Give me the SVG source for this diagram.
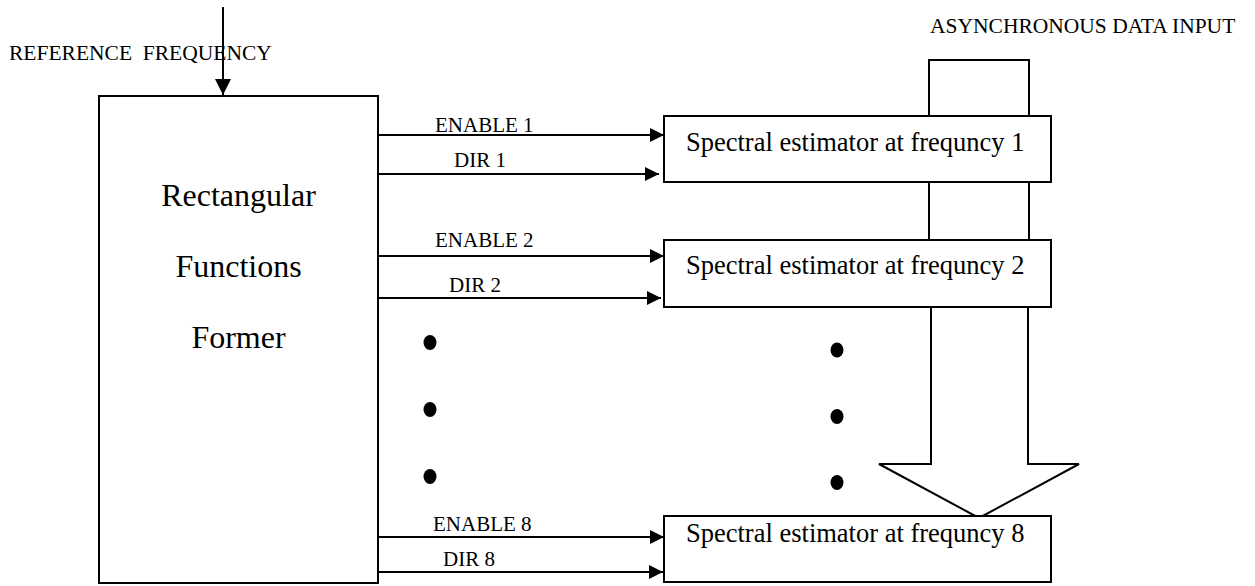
<svg xmlns="http://www.w3.org/2000/svg" width="1255" height="586" viewBox="0 0 1255 586">
<style>
.box{fill:#fff;stroke:#000;stroke-width:2}
.ln{stroke:#000;stroke-width:2;fill:none}
.lbl{font-family:"Liberation Serif","Times New Roman",serif;font-size:21px;fill:#000}
.hdr{font-family:"Liberation Serif","Times New Roman",serif;font-size:21.5px;fill:#000}
.big{font-family:"Liberation Serif","Times New Roman",serif;font-size:26.5px;fill:#000}
.main{font-family:"Liberation Serif","Times New Roman",serif;font-size:32px;fill:#000;text-anchor:middle}
.dot{fill:#000}
</style>
<defs>
<marker id="ah" viewBox="0 0 14 14" refX="14" refY="7" markerWidth="14" markerHeight="14" markerUnits="userSpaceOnUse" orient="auto">
<path d="M0,0 L14,7 L0,14 Z" fill="#000"/>
</marker>
<marker id="ahv" viewBox="0 0 16 16" refX="16" refY="8" markerWidth="16" markerHeight="16" markerUnits="userSpaceOnUse" orient="auto">
<path d="M0,0 L16,8 L0,16 Z" fill="#000"/>
</marker>
</defs>

<g id="data-input">
<path class="ln" d="M929,116 V60 H1029 V116 M929,182 V240 M1029,182 V240"/>
<path class="box" d="M931,307 V464 H879 L979,518 L1079,464 H1028 V307"/>
<text class="hdr" x="930" y="33">ASYNCHRONOUS DATA INPUT</text>
</g>

<g id="connectors">
<line class="ln" x1="223" y1="7" x2="223" y2="95" marker-end="url(#ahv)"/>
<line class="ln" x1="378" y1="135" x2="664" y2="135" marker-end="url(#ah)"/>
<line class="ln" x1="378" y1="174" x2="659" y2="174" marker-end="url(#ah)"/>
<line class="ln" x1="378" y1="256" x2="664" y2="256" marker-end="url(#ah)"/>
<line class="ln" x1="378" y1="298" x2="661" y2="298" marker-end="url(#ah)"/>
<line class="ln" x1="378" y1="537" x2="664" y2="537" marker-end="url(#ah)"/>
<line class="ln" x1="378" y1="572" x2="663" y2="572" marker-end="url(#ah)"/>
<text class="lbl" x="435" y="131.5">ENABLE 1</text>
<text class="lbl" x="454" y="166.5">DIR 1</text>
<text class="lbl" x="435" y="247">ENABLE 2</text>
<text class="lbl" x="449" y="291.5">DIR 2</text>
<text class="lbl" x="433" y="530.5">ENABLE 8</text>
<text class="lbl" x="443" y="566">DIR 8</text>
</g>

<g id="ref-label">
<text class="hdr" x="9" y="60" xml:space="preserve">REFERENCE  FREQUENCY</text>
</g>

<g id="former">
<rect class="box" x="99" y="96" width="279" height="487"/>
<text class="main" x="238.5" y="206">Rectangular</text>
<text class="main" x="238.5" y="277">Functions</text>
<text class="main" x="238.5" y="348">Former</text>
</g>

<g id="est1">
<rect class="box" x="664" y="116" width="387" height="66"/>
<text class="big" x="686" y="151">Spectral estimator at frequncy 1</text>
</g>
<g id="est2">
<rect class="box" x="664" y="240" width="387" height="67"/>
<text class="big" x="686" y="274">Spectral estimator at frequncy 2</text>
</g>
<g id="est8">
<rect class="box" x="664" y="516" width="387" height="66"/>
<text class="big" x="686" y="542">Spectral estimator at frequncy 8</text>
</g>

<g id="dots-left">
<ellipse class="dot" cx="430" cy="342.5" rx="6.5" ry="7.5"/>
<ellipse class="dot" cx="430" cy="409.5" rx="6.5" ry="7.5"/>
<ellipse class="dot" cx="430" cy="476.5" rx="6.5" ry="7.5"/>
</g>
<g id="dots-right">
<ellipse class="dot" cx="837" cy="350" rx="6.5" ry="7.5"/>
<ellipse class="dot" cx="837" cy="416.5" rx="6.5" ry="7.5"/>
<ellipse class="dot" cx="837" cy="482.5" rx="6.5" ry="7.5"/>
</g>
</svg>
